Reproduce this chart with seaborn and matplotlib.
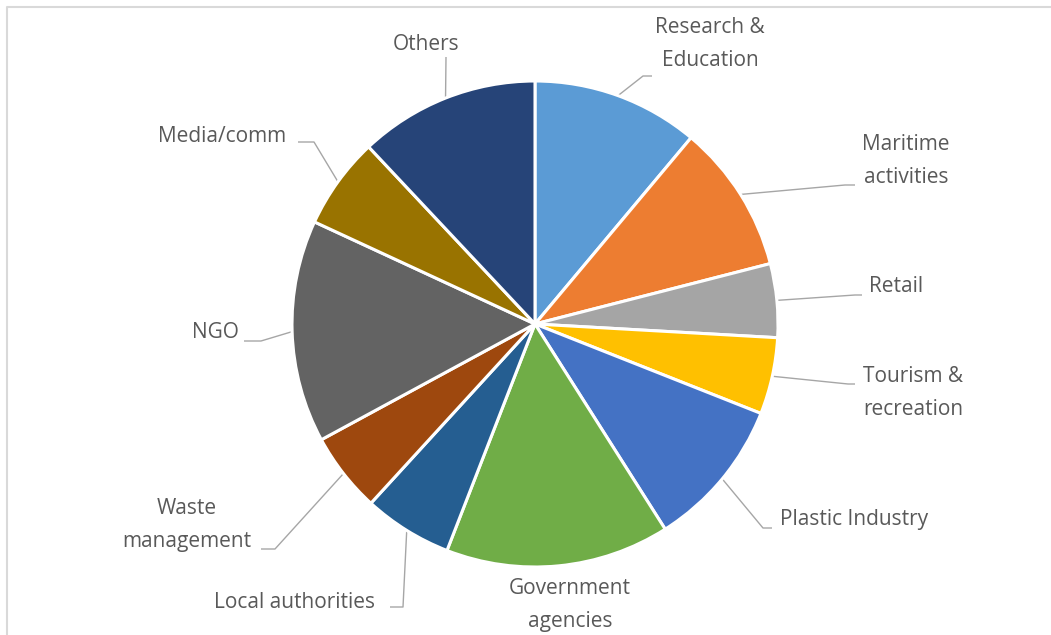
import matplotlib
matplotlib.use("Agg")
import matplotlib.pyplot as plt
import seaborn as sns
import numpy as np

sns.set_theme(style="white")
plt.rcParams['font.family'] = ['Open Sans', 'DejaVu Sans']

# ---- data (share of respondents, %) ----
categories = ["Research &\nEducation", "Maritime\nactivities", "Retail",
              "Tourism &\nrecreation", "Plastic Industry", "Government\nagencies",
              "Local authorities", "Waste\nmanagement", "NGO", "Media/comm", "Others"]
values = [11.1, 9.9, 4.9, 5.1, 10.0, 14.9, 5.9, 5.3, 14.8, 6.1, 12.0]
colors = ["#5B9BD5", "#ED7D31", "#A5A5A5", "#FFC000", "#4472C4", "#70AD47",
          "#255E91", "#9E480E", "#636363", "#997300", "#264478"]

W, H = 1051, 635
fig = plt.figure(figsize=(W / 100, H / 100), dpi=100)
ax = fig.add_axes([0, 0, 1, 1])

cx, cy, R = 535, H - 324, 243
wedges, _ = ax.pie(values, colors=colors, startangle=90, counterclock=False,
                   center=(cx, cy), radius=R, frame=True,
                   wedgeprops=dict(edgecolor="white", linewidth=2.2))
ax.set_xlim(0, W)
ax.set_ylim(0, H)
ax.set_aspect('equal')
ax.axis('off')

# label layout: (text x, text y, elbow x, elbow y, end x) in pixel coords from top
layout = [
    (710, 44, 643, 76, 652),
    (906, 161, 845, 185, 855),
    (896, 286, 855, 295, 862),
    (913, 393, 848, 384, 855),
    (854, 520, 763, 528, 772),
    (570, 605, None, None, None),
    (295, 602, 403, 607, 390),
    (187, 525, 275, 549, 261),
    (215, 333, 261, 341, 244),
    (222, 136, 314, 142, 298),
    (426, 45, 446, 57, 446),
]

txtc = "#595959"
for w, lab, (tx, ty, ex, ey, endx) in zip(wedges, categories, layout):
    ang = np.deg2rad((w.theta1 + w.theta2) / 2)
    ax_pt = (cx + R * np.cos(ang), cy + R * np.sin(ang))
    ax.text(tx, H - ty, lab, ha="center", va="center", fontsize=15,
            color=txtc, linespacing=1.7, multialignment="center")
    if ex is not None:
        ax.plot([ax_pt[0], ex, endx], [ax_pt[1], H - ey, H - ey],
                color="#A6A6A6", lw=1.0, zorder=0.5, solid_capstyle="butt")

# chart frame (light border)
ax.plot([7, 7, W], [0, H - 7, H - 7], color="#D9D9D9", lw=1.5, clip_on=False)

fig.savefig("out.png", dpi=100, facecolor="white")
